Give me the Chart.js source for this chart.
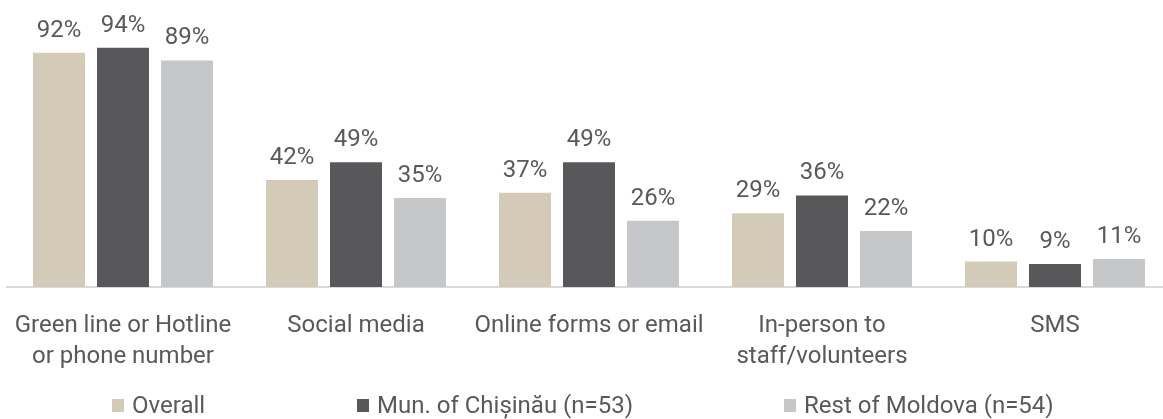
<!DOCTYPE html>
<html>
<head>
<meta charset="utf-8">
<script src="https://cdn.jsdelivr.net/npm/chart.js@4"></script>
<style>
    html, body { margin: 0; padding: 0; background: #fff; overflow: hidden; }
    .chart-wrap { position: relative; width: 1172px; height: 419px; }
    .legend { position: absolute; left: 0; top: 0; width: 100%; height: 100%; pointer-events: none; }
    .legend__item {
        position: absolute; top: 391px; display: flex; align-items: center;
        font: 24px "Roboto", sans-serif; color: #595959; white-space: nowrap;
    }
    .legend__box { width: 12px; height: 13px; margin-right: 8px; }
</style>
</head>
<body>
<div class="chart-wrap">
    <canvas id="channelChart"></canvas>
    <div class="legend" id="legend"></div>
</div>
<script>
const categories = [
    ["Green line or Hotline", "or phone number"],
    "Social media",
    "Online forms or email",
    ["In-person to", "staff/volunteers"],
    "SMS",
];
const seriesNames = ["Overall", "Mun. of Chișinău (n=53)", "Rest of Moldova (n=54)"];
const overallValues = [92, 42, 37, 29, 10];
const chisinauValues = [94, 49, 49, 36, 9];
const restValues = [89, 35, 26, 22, 11];
const seriesColors = ["#D3CBB8", "#58585A", "#C6C7C9"];
const legendLeft = [112, 357, 784];

const textColor = "#595959";
const fontFamily = '"Roboto", sans-serif';

// value labels above each bar
const barLabels = {
    id: "barLabels",
    afterDatasetsDraw(chart) {
        const ctx = chart.ctx;
        ctx.save();
        ctx.font = `24px ${fontFamily}`;
        ctx.fillStyle = textColor;
        ctx.textAlign = "center";
        ctx.textBaseline = "alphabetic";
        chart.data.datasets.forEach((ds, i) => {
            const meta = chart.getDatasetMeta(i);
            meta.data.forEach((bar, j) => {
                ctx.fillText(`${ds.data[j]}%`, bar.x, bar.y - 16);
            });
        });
        ctx.restore();
    },
};

function buildLegend() {
    const legend = document.getElementById("legend");
    seriesNames.forEach((name, i) => {
        const item = document.createElement("div");
        item.className = "legend__item";
        item.style.left = `${legendLeft[i]}px`;
        item.innerHTML = `<span class="legend__box" style="background:${seriesColors[i]}"></span><span>${name}</span>`;
        legend.appendChild(item);
    });
}

function initChart() {
    const el = document.getElementById("channelChart");
    const values = [overallValues, chisinauValues, restValues];

    new Chart(el, {
        type: "bar",
        data: {
            labels: categories,
            datasets: seriesNames.map((name, i) => ({
                label: name,
                data: values[i],
                backgroundColor: seriesColors[i],
                categoryPercentage: 0.824,
                barPercentage: 0.8125,
            })),
        },
        options: {
            responsive: true,
            maintainAspectRatio: false,
            animation: false,
            layout: { padding: { top: 32.5, left: 6.5, right: 0.5, bottom: 0 } },
            plugins: {
                legend: { display: false },
                tooltip: { enabled: false },
            },
            scales: {
                x: {
                    grid: { display: false },
                    border: { color: "#D9D9D9", width: 2 },
                    ticks: {
                        color: textColor,
                        padding: 15,
                        maxRotation: 0,
                        autoSkip: false,
                        font: { family: fontFamily, size: 24, lineHeight: 1.3 },
                    },
                    afterFit: (scale) => {
                        // keep the plot edge fixed, no extra room for wide labels
                        scale.height = 419 - 287;
                        scale.paddingLeft = 0;
                        scale.paddingRight = 0;
                    },
                },
                y: { display: false, min: 0, max: 100 },
            },
        },
        plugins: [barLabels],
    });
}

buildLegend();
initChart();
</script>
</body>
</html>
